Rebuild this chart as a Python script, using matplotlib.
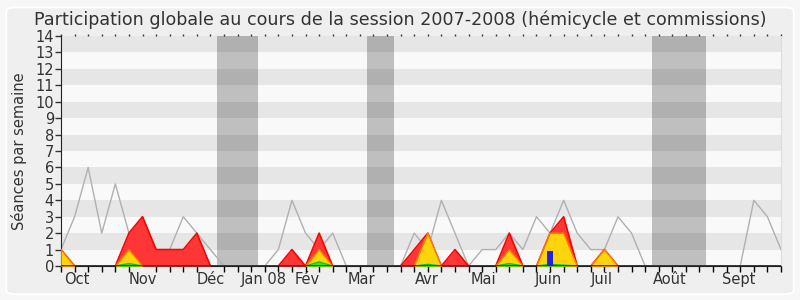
# -*- coding: utf-8 -*-
# Participation globale au cours de la session 2007-2008 (hémicycle et commissions)
import numpy as np
import matplotlib
matplotlib.use('Agg')
import matplotlib.pyplot as plt
from matplotlib.patches import FancyBboxPatch

# ---- données : une valeur par semaine (54 semaines) ----
total_seances = [1, 3, 6, 2, 5, 2, 3, 1, 1, 3, 2, 1, 0, 0, 0, 0, 1, 4, 2, 1,
                 2, 0, 0, 0, 0, 0, 2, 1, 4, 2, 0, 1, 1, 2, 1, 3, 2, 4, 2, 1,
                 1, 3, 2, 0, 0, 0, 0, 0, 0, 0, 0, 4, 3, 1]
presences = [1, 0, 0, 0, 0, 2, 3, 1, 1, 1, 2, 0, 0, 0, 0, 0, 0, 1, 0, 2,
             0, 0, 0, 0, 0, 0, 1, 2, 0, 1, 0, 0, 0, 2, 0, 0, 2, 3, 0, 0,
             1, 0, 0, 0, 0, 0, 0, 0, 0, 0, 0, 0, 0, 0]
presences_hemicycle = [1, 0, 0, 0, 0, 1, 0, 0, 0, 0, 0, 0, 0, 0, 0, 0, 0, 0, 0, 1,
                       0, 0, 0, 0, 0, 0, 0, 2, 0, 0, 0, 0, 0, 1, 0, 0, 2, 2, 0, 0,
                       1, 0, 0, 0, 0, 0, 0, 0, 0, 0, 0, 0, 0, 0]
interventions = [0, 0, 0, 0, 0, 0.15, 0, 0, 0, 0, 0, 0, 0, 0, 0, 0, 0, 0, 0, 0.25,
                 0, 0, 0, 0, 0, 0, 0, 0.1, 0, 0, 0, 0, 0, 0.15, 0, 0, 0.1, 0.05, 0, 0,
                 0, 0, 0, 0, 0, 0, 0, 0, 0, 0, 0, 0, 0, 0]
questions_semaine = [36]
questions_valeur = [0.9]

# vacances parlementaires (début, fin) en semaines
vacances = [(11.5, 14.5), (22.5, 24.5), (43.5, 47.5)]

mois_labels = ['Oct', 'Nov', 'Déc', 'Jan 08', 'Fév', 'Mar', 'Avr', 'Mai',
               'Juin', 'Juil', 'Août', 'Sept']
mois_pos = [1.15, 6.0, 11.0, 14.9, 18.1, 22.1, 26.9, 31.1, 35.9, 39.8, 44.8, 49.9]

semaines = np.arange(len(total_seances))

fig = plt.figure(figsize=(8, 3), dpi=100, facecolor='#f7f7f7')
# cadre arrondi autour du graphique
cadre = FancyBboxPatch((0.008, 0.02), 0.984, 0.955, boxstyle='round,pad=0,rounding_size=0.012',
                       transform=fig.transFigure, facecolor='#efefef',
                       edgecolor='#ffffff', linewidth=1.2, zorder=-10)
fig.patches.append(cadre)

ax = fig.add_axes([0.07625, 0.1133, 0.9, 0.7667])
ax.set_zorder(5)
ax.set_xlim(0, 53)
ax.set_ylim(0, 14)
ax.set_facecolor('#f9f9f9')

# bandes horizontales alternées
for k in range(0, 14, 2):
    ax.axhspan(k + 1, k + 2, color='#e6e6e6', zorder=0, lw=0)

# vacances
for debut, fin in vacances:
    ax.axvspan(debut, fin, color='black', alpha=0.233, lw=0, zorder=1)

# séances totales
ax.plot(semaines, total_seances, color='#b0b0b0', lw=1, zorder=2)

# présences (rouge), hémicycle (jaune), interventions (vert)
ax.fill_between(semaines, presences, color='#ff3636', lw=0, zorder=3)
ax.plot(semaines, presences, color='#ff0000', lw=1.2, zorder=3)
ax.fill_between(semaines, presences_hemicycle, color='#ffd40c', lw=0, zorder=4)
yel = np.ma.masked_where(np.convolve(np.array(presences_hemicycle) > 0, [1, 1, 1], 'same') == 0,
                         presences_hemicycle)
ax.plot(semaines, yel, color='#ff7a00', lw=1, zorder=4)
ax.fill_between(semaines, interventions, color='#22ee22', lw=0, zorder=5)
ax.plot(semaines, interventions, color='#00cc00', lw=1, zorder=5)
ax.bar(questions_semaine, questions_valeur, width=0.4, color='#2222dd', zorder=6)
ax.plot(semaines, np.zeros(len(semaines)), color='#7a1010', lw=1.2, zorder=6)

# axes
ax.set_yticks(range(15))
ax.set_xticks(semaines, minor=True)
ax.set_xticks(mois_pos)
ax.set_xticklabels(mois_labels)
ax.tick_params(axis='x', which='major', length=0, pad=4, labelsize=10.5, colors='#333333')
ax.tick_params(axis='x', which='minor', length=4, direction='out', width=1)
ax.tick_params(axis='y', length=4, width=1, labelsize=10.5, colors='#333333', pad=1)

# petits repères hebdomadaires en haut
haut = ax.secondary_xaxis('top')
haut.set_xticks(semaines)
haut.set_xticklabels([])
haut.tick_params(length=1.5, width=1, colors='#333333', pad=0)
haut.spines['top'].set_visible(False)

ax.spines['top'].set_visible(False)
ax.spines['right'].set_color('#dddddd')
ax.spines['left'].set_color('#222222')
ax.spines['bottom'].set_color('#222222')

ax.set_ylabel('Séances par semaine', fontsize=10.5, color='#333333', labelpad=6)
fig.text(0.5, 0.965, 'Participation globale au cours de la session 2007-2008 (hémicycle et commissions)',
         ha='center', va='top', fontsize=12.6, color='#333333')

plt.savefig('out.png', dpi=100, facecolor=fig.get_facecolor())
